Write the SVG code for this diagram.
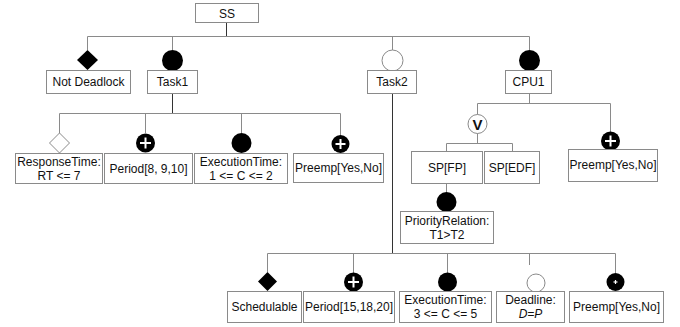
<svg xmlns="http://www.w3.org/2000/svg" width="680" height="327" viewBox="0 0 680 327">
<style>
.box{fill:#fff;stroke:#8a8a8a;stroke-width:1}
.t{font-family:"Liberation Sans",Arial,sans-serif;font-size:12px;fill:#111;text-anchor:middle}
.ln{stroke:#8a8a8a;stroke-width:1;fill:none}
.dk{stroke:#333;stroke-width:1;fill:none}
.fill{fill:#000}
.open{fill:#fff;stroke:#8a8a8a;stroke-width:1}
.plus{stroke:#fff;stroke-width:2}
</style>
<rect width="680" height="327" fill="#fff"/>
<g id="connectors">
<line class="dk" x1="226.5" y1="22" x2="226.5" y2="36.5"/>
<polyline class="ln" points="87.5,50 87.5,36.5 529.5,36.5 529.5,50"/>
<line class="ln" x1="172.5" y1="36.5" x2="172.5" y2="50"/>
<line class="ln" x1="392.5" y1="36.5" x2="392.5" y2="50"/>
<line class="dk" x1="172.5" y1="93" x2="172.5" y2="113.5"/>
<polyline class="ln" points="59.5,133 59.5,113.5 340.5,113.5 340.5,135"/>
<line class="ln" x1="145.5" y1="113.5" x2="145.5" y2="133"/>
<line class="ln" x1="241.5" y1="113.5" x2="241.5" y2="133"/>
<line class="dk" x1="392.5" y1="93" x2="392.5" y2="253.5"/>
<line class="ln" x1="529.5" y1="93" x2="529.5" y2="103.5"/>
<polyline class="ln" points="477.5,115 477.5,103.5 610.5,103.5 610.5,132"/>
<line class="ln" x1="477.5" y1="133" x2="477.5" y2="143.5"/>
<polyline class="ln" points="446.5,151 446.5,143.5 512.5,143.5 512.5,151"/>
<line class="ln" x1="446.5" y1="183" x2="446.5" y2="193"/>
<polyline class="ln" points="267.5,272 267.5,253.5 615.5,253.5 615.5,273"/>
<line class="ln" x1="353.5" y1="253.5" x2="353.5" y2="273"/>
<line class="ln" x1="447.5" y1="253.5" x2="447.5" y2="273"/>
<line class="ln" x1="529.5" y1="253.5" x2="529.5" y2="265"/>
</g>
<g id="SS"><rect class="box" x="195.5" y="3.5" width="63" height="19"/><text class="t" x="227" y="17.5">SS</text></g>
<g id="NotDeadlock">
<polygon class="fill" points="87.5,50 98,60 87.5,70 77,60"/>
<rect class="box" x="46.5" y="70.5" width="84" height="23"/><text class="t" x="88.5" y="86">Not Deadlock</text></g>
<g id="Task1">
<circle class="fill" cx="172.5" cy="60.5" r="10.5"/>
<rect class="box" x="147.5" y="70.5" width="50" height="23"/><text class="t" x="172.5" y="86">Task1</text></g>
<g id="Task2">
<circle class="open" cx="392.5" cy="60.5" r="10.5"/>
<rect class="box" x="367.5" y="70.5" width="49" height="23"/><text class="t" x="392" y="86">Task2</text></g>
<g id="CPU1">
<circle class="fill" cx="529.5" cy="60.5" r="10.5"/>
<rect class="box" x="505.5" y="70.5" width="46" height="23"/><text class="t" x="528.5" y="86">CPU1</text></g>
<g id="ResponseTime">
<polygon class="open" points="59.5,133 69.5,143 59.5,153 49.5,143"/>
<rect class="box" x="15.5" y="153.5" width="87" height="30"/>
<text class="t" x="59" y="165.5">ResponseTime:</text><text class="t" x="59" y="179.5">RT &lt;= 7</text></g>
<g id="Period1">
<circle class="fill" cx="145.5" cy="143" r="9.5"/>
<line class="plus" x1="140" y1="143" x2="151" y2="143"/><line class="plus" x1="145.5" y1="137.5" x2="145.5" y2="148.5"/>
<rect class="box" x="104.5" y="153.5" width="88" height="30"/><text class="t" x="148.5" y="172.5">Period[8, 9,10]</text></g>
<g id="ExecutionTime1">
<circle class="fill" cx="241.5" cy="143" r="10"/>
<rect class="box" x="194.5" y="153.5" width="93" height="30"/>
<text class="t" x="241" y="165.5">ExecutionTime:</text><text class="t" x="241" y="179.5">1 &lt;= C &lt;= 2</text></g>
<g id="Preemp1">
<circle class="fill" cx="340.5" cy="144" r="9"/>
<line class="plus" x1="335.5" y1="144" x2="345.5" y2="144"/><line class="plus" x1="340.5" y1="139" x2="340.5" y2="149"/>
<rect class="box" x="293.5" y="153.5" width="90" height="29"/><text class="t" x="338.5" y="172">Preemp[Yes,No]</text></g>
<g id="Alt">
<circle class="open" cx="477.5" cy="124" r="9.5"/>
<text x="477.5" y="130" text-anchor="middle" font-family="Liberation Sans,Arial,sans-serif" font-size="15px" font-weight="bold" fill="#111">V</text></g>
<g id="SPFP"><rect class="box" x="411.5" y="151.5" width="71" height="32"/><text class="t" x="447" y="172">SP[FP]</text></g>
<g id="SPEDF"><rect class="box" x="484.5" y="151.5" width="55" height="32"/><text class="t" x="512" y="172">SP[EDF]</text></g>
<g id="PreempCPU">
<circle class="fill" cx="610.5" cy="141" r="9.5"/>
<line class="plus" x1="605" y1="141" x2="616" y2="141"/><line class="plus" x1="610.5" y1="135.5" x2="610.5" y2="146.5"/>
<rect class="box" x="568.5" y="149.5" width="89" height="32"/><text class="t" x="613" y="169">Preemp[Yes,No]</text></g>
<g id="PriorityRelation">
<circle class="fill" cx="446.5" cy="202" r="10"/>
<rect class="box" x="400.5" y="211.5" width="93" height="32"/>
<text class="t" x="447" y="224.5">PriorityRelation:</text><text class="t" x="447" y="239">T1&gt;T2</text></g>
<g id="Schedulable">
<polygon class="fill" points="267.5,272 277,281.5 267.5,291 258,281.5"/>
<rect class="box" x="227.5" y="291.5" width="74" height="31"/><text class="t" x="264.5" y="311">Schedulable</text></g>
<g id="Period2">
<circle class="fill" cx="353.5" cy="282" r="9.5"/>
<line class="plus" x1="348" y1="282" x2="359" y2="282"/><line class="plus" x1="353.5" y1="276.5" x2="353.5" y2="287.5"/>
<rect class="box" x="303.5" y="291.5" width="91" height="31"/><text class="t" x="349" y="311">Period[15,18,20]</text></g>
<g id="ExecutionTime2">
<circle class="fill" cx="447.5" cy="282" r="9.5"/>
<rect class="box" x="399.5" y="291.5" width="92" height="31"/>
<text class="t" x="445.5" y="304">ExecutionTime:</text><text class="t" x="445.5" y="318">3 &lt;= C &lt;= 5</text></g>
<g id="Deadline">
<circle class="open" cx="536" cy="283" r="9"/>
<rect class="box" x="496.5" y="291.5" width="68" height="31"/>
<text class="t" x="530.5" y="304">Deadline:</text><text class="t" x="530.5" y="318" font-style="italic">D=P</text></g>
<g id="Preemp2">
<circle class="fill" cx="615.5" cy="282" r="9"/>
<line stroke="#fff" stroke-width="1.2" x1="613.5" y1="282" x2="617.5" y2="282"/><line stroke="#fff" stroke-width="1.2" x1="615.5" y1="280" x2="615.5" y2="284"/>
<rect class="box" x="569.5" y="291.5" width="94" height="31"/><text class="t" x="616.5" y="311">Preemp[Yes,No]</text></g>
</svg>
